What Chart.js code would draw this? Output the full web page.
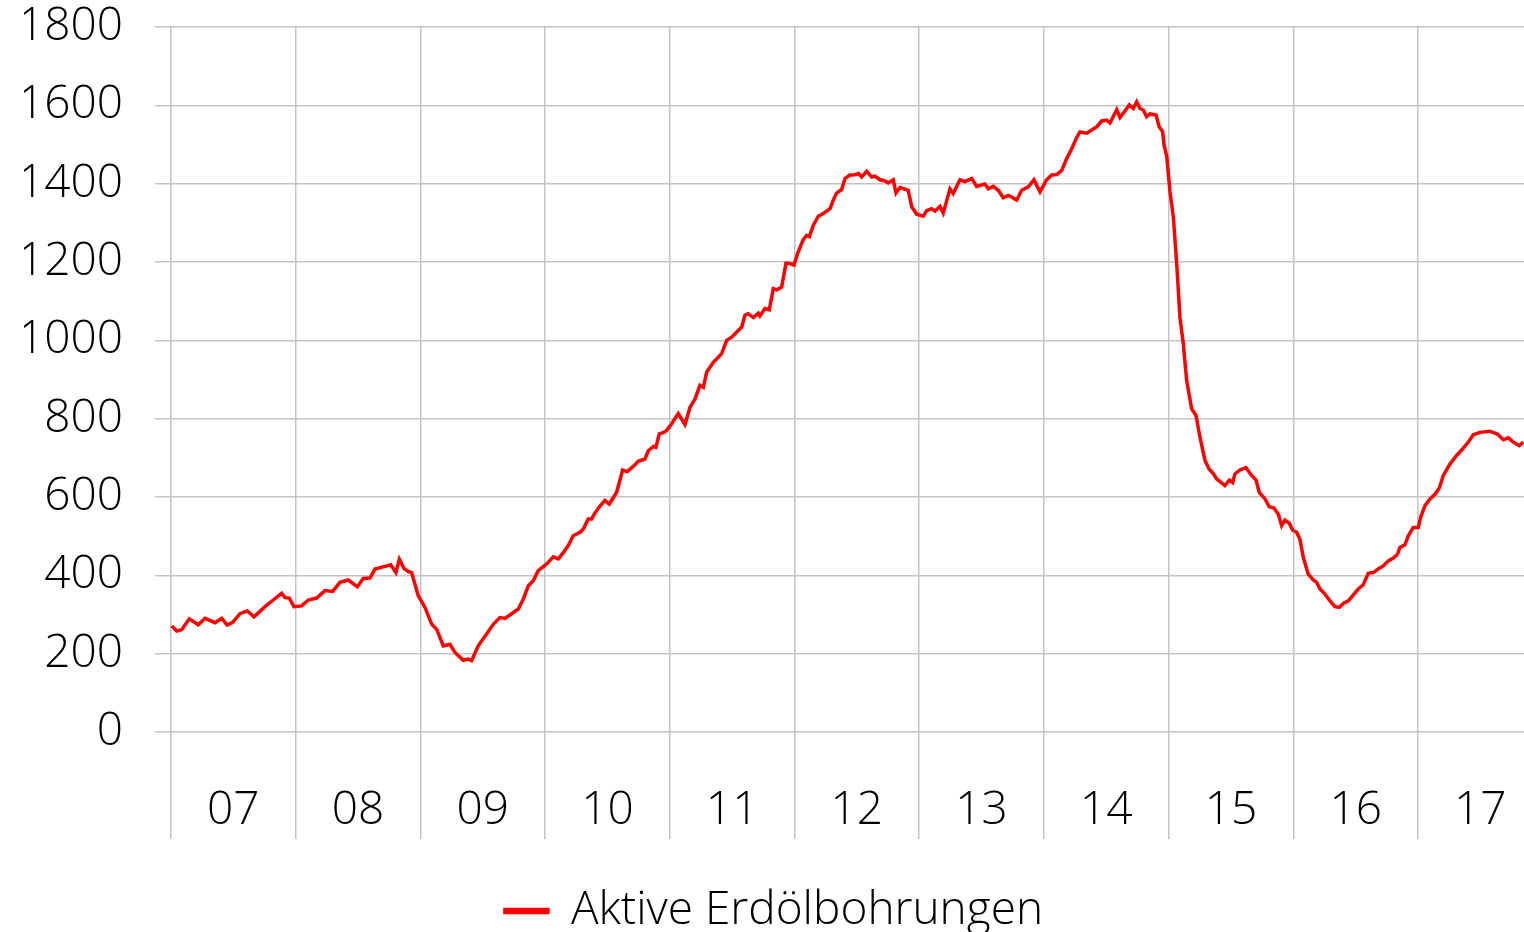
<!DOCTYPE html>
<html>
<head>
<meta charset="utf-8">
<script src="https://cdn.jsdelivr.net/npm/chart.js@4/dist/chart.umd.min.js"></script>
<style>
html,body{margin:0;padding:0;background:#fff;}
#wrap{width:1524px;height:932px;}
</style>
</head>
<body>
<div id="wrap"><canvas id="c" width="1524" height="932"></canvas></div>
<script>
// Decimal years (x) and active oil rig counts
const dates = [
2007.006,2007.046,2007.086,2007.147,2007.219,2007.273,2007.353,2007.407,2007.451,2007.495,
2007.553,2007.612,2007.666,2007.754,2007.820,2007.888,2007.914,2007.949,2007.986,
2008.048,2008.101,2008.168,2008.235,2008.297,2008.355,2008.422,2008.494,2008.542,2008.596,
2008.636,2008.730,2008.762,2008.804,2008.831,2008.868,2008.901,2008.930,2008.983,
2009.037,2009.091,2009.131,2009.184,2009.237,2009.277,2009.344,2009.384,2009.411,2009.464,
2009.532,2009.585,2009.638,2009.678,2009.732,2009.785,2009.825,2009.865,2009.905,2009.945,
2010.013,2010.066,2010.106,2010.146,2010.186,2010.226,2010.280,2010.306,2010.346,2010.374,
2010.392,2010.435,2010.480,2010.515,2010.574,2010.622,2010.659,2010.707,2010.747,2010.801,
2010.828,2010.868,2010.889,2010.916,2010.953,2010.975,
2011.015,2011.068,2011.122,2011.162,2011.202,2011.242,2011.269,2011.296,2011.349,2011.389,
2011.416,2011.456,2011.496,2011.549,2011.577,2011.603,2011.629,2011.670,2011.710,2011.723,
2011.763,2011.798,2011.830,2011.857,2011.897,2011.932,2011.964,2011.996,
2012.026,2012.070,2012.098,2012.119,2012.151,2012.191,2012.231,2012.258,2012.285,2012.311,
2012.338,2012.378,2012.405,2012.445,2012.485,2012.512,2012.539,2012.579,2012.619,2012.645,
2012.686,2012.726,2012.752,2012.792,2012.814,2012.846,2012.912,2012.940,2012.980,
2013.033,2013.060,2013.100,2013.127,2013.167,2013.193,2013.220,2013.247,2013.273,2013.327,
2013.367,2013.421,2013.461,2013.527,2013.554,2013.594,2013.634,2013.674,2013.714,2013.741,
2013.782,2013.822,2013.875,2013.920,2013.969,
2014.022,2014.062,2014.103,2014.143,2014.183,2014.223,2014.263,2014.289,2014.343,2014.383,
2014.423,2014.463,2014.503,2014.530,2014.584,2014.610,2014.637,2014.685,2014.717,2014.744,
2014.770,2014.797,2014.824,2014.851,2014.899,2014.925,2014.952,2014.963,2014.985,
2015.011,2015.038,2015.065,2015.091,2015.118,2015.145,2015.185,2015.220,2015.252,2015.292,
2015.326,2015.358,2015.386,2015.452,2015.487,2015.514,2015.532,2015.572,2015.620,2015.666,
2015.701,2015.727,2015.773,2015.807,2015.845,2015.880,2015.907,2015.933,2015.968,2015.995,
2016.027,2016.053,2016.080,2016.120,2016.160,2016.187,2016.214,2016.254,2016.294,2016.334,
2016.369,2016.401,2016.441,2016.521,2016.561,2016.601,2016.641,2016.681,2016.721,2016.762,
2016.802,2016.834,2016.855,2016.895,2016.922,2016.962,
2017.002,2017.021,2017.056,2017.096,2017.136,2017.171,2017.203,2017.256,2017.310,2017.363,
2017.403,2017.443,2017.497,2017.577,2017.617,2017.643,2017.684,2017.724,2017.764,2017.812,
2017.844
];
const rigs = [
271,258,261,289,274,290,279,290,273,280,
302,309,294,320,337,354,343,342,320,
322,337,342,361,359,382,388,371,392,393,
416,424,427,407,441,418,410,407,348,
318,275,262,220,224,203,183,186,182,220,
251,275,292,290,302,314,339,373,386,412,
429,447,442,458,476,501,510,518,544,544,
555,575,591,582,612,669,665,678,691,697,
718,729,727,761,765,770,
787,813,785,829,850,885,880,919,944,957,
966,1000,1008,1025,1034,1064,1068,1058,1069,1062,
1081,1078,1132,1129,1136,1197,1196,1192,
1223,1257,1268,1265,1294,1317,1324,1330,1336,1358,
1376,1385,1413,1422,1423,1426,1417,1432,1417,1419,
1410,1407,1402,1410,1376,1390,1383,1341,1322,
1317,1331,1336,1330,1342,1325,1356,1387,1375,1410,
1405,1413,1393,1399,1387,1393,1383,1364,1370,1366,
1358,1383,1392,1410,1379,
1410,1422,1423,1434,1464,1489,1518,1532,1529,1537,
1545,1560,1562,1555,1589,1569,1580,1601,1592,1609,
1592,1588,1571,1578,1575,1545,1533,1500,1470,
1380,1315,1196,1059,991,897,825,808,752,693,
671,660,646,629,643,637,659,669,675,655,
643,612,595,575,572,556,527,541,533,515,
510,492,446,403,388,382,365,352,335,320,
318,328,335,365,376,405,407,416,424,437,
444,453,471,478,501,522,
522,548,578,595,607,623,655,684,706,725,
740,759,765,768,763,759,746,751,740,731,
740
];
const yearTicks = [2007,2008,2009,2010,2011,2012,2013,2014,2015,2016,2017];
const yearLabels = ['07','08','09','10','11','12','13','14','15','16','17'];
const yTicks = [0,200,400,600,800,1000,1200,1400,1600,1800];
const seriesName = 'Aktive Erdölbohrungen';

const FONT = '"Open Sans", "Noto Sans", sans-serif';
const FS = 46;
const GRID = '#c4c4c4';
const points = dates.map((d, i) => ({x: d, y: rigs[i]}));

new Chart(document.getElementById('c'), {
  type: 'line',
  data: {
    datasets: [{
      label: seriesName,
      data: points,
      borderColor: '#ff0000',
      backgroundColor: '#ff0000',
      borderWidth: 3.5,
      pointRadius: 0,
      tension: 0,
      fill: false
    }]
  },
  options: {
    responsive: false,
    animation: false,
    layout: {padding: {top: 27, right: 0, left: 24, bottom: -12}},
    plugins: {
      tooltip: {enabled: false},
      legend: {
        position: 'bottom',
        labels: {
          boxWidth: 43,
          boxHeight: 3,
          padding: 0,
          color: '#000',
          font: {family: FONT, size: FS, weight: '300'}
        }
      }
    },
    scales: {
      x: {
        type: 'linear',
        min: 2006.872,
        max: 2017.85,
        border: {display: false},
        afterBuildTicks: (s) => {
          const t = [];
          yearTicks.forEach(y => { t.push({value: y}); t.push({value: y + 0.5}); });
          s.ticks = t;
        },
        afterFit: (s) => { s.height = 156; s.paddingLeft = 0; s.paddingRight = 0; },
        grid: {
          drawTicks: true,
          tickLength: 107,
          lineWidth: 1.5,
          color: (ctx) => (ctx.tick && Number.isInteger(ctx.tick.value)) ? GRID : 'rgba(0,0,0,0)'
        },
        ticks: {
          autoSkip: false,
          maxRotation: 0,
          padding: -55.6,
          color: '#000',
          font: {family: FONT, size: FS, weight: '300'},
          callback: (v) => {
            const i = yearTicks.indexOf(v - 0.5);
            return i >= 0 ? yearLabels[i] : '';
          }
        }
      },
      y: {
        min: 0,
        max: 1800,
        border: {display: false},
        afterBuildTicks: (s) => { s.ticks = yTicks.map(v => ({value: v})); },
        afterFit: (s) => { s.width = 131; s.paddingTop = 0; s.paddingBottom = 0; },
        grid: {drawTicks: false, color: GRID, lineWidth: 1.5},
        ticks: {
          padding: 32,
          color: '#000',
          font: {family: FONT, size: FS, weight: '300'},
          callback: (v) => String(v)
        }
      }
    }
  }
});
</script>
</body>
</html>
